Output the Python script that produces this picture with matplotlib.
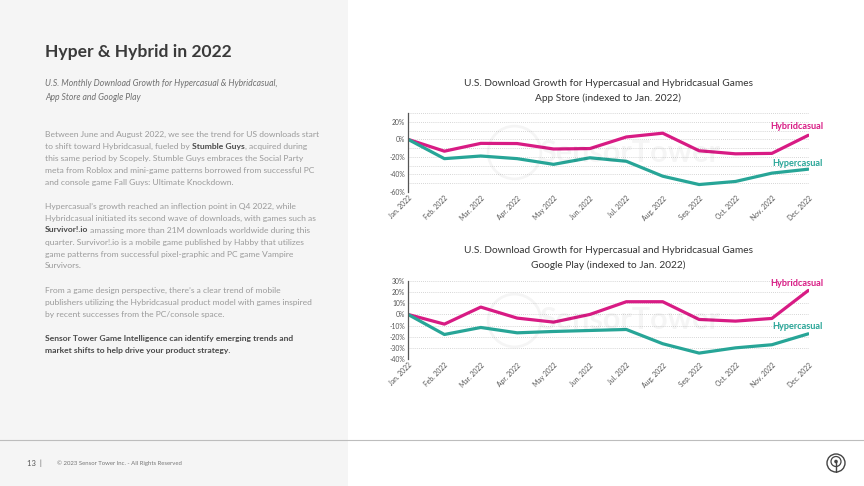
import matplotlib
matplotlib.use("Agg")
import matplotlib.pyplot as plt
from matplotlib.patches import Rectangle, Circle
import numpy as np

# ---------------------------------------------------------------------------
# Data
# ---------------------------------------------------------------------------

MONTHS = ["Jan. 2022", "Feb. 2022", "Mar. 2022", "Apr. 2022", "May 2022", "Jun. 2022",
          "Jul. 2022", "Aug. 2022", "Sep. 2022", "Oct. 2022", "Nov. 2022", "Dec. 2022"]

appstore_hybrid = [0, -13.5, -4.6, -4.8, -11, -10.5, 2.7, 7, -13, -16.5, -16, 4.6]
appstore_hyper  = [0, -22, -19, -22, -28.5, -21, -25, -42, -51.5, -48, -38.5, -34]

gplay_hybrid = [0, -8.7, 6.6, -3.3, -6.9, 0, 11.4, 11.4, -4.5, -6, -3.6, 21.5]
gplay_hyper  = [0, -18, -11.7, -16.5, -15.3, -14.4, -13.5, -26.3, -34.7, -30, -27.2, -17.4]

HYBRID_COLOR = "#d81b84"
HYPER_COLOR  = "#27a597"

FONT = "Lato"
W, H = 864, 486


def fx(x):
    return x / W


def fy(y):
    return 1 - y / H


# ---------------------------------------------------------------------------
# Text helpers
# ---------------------------------------------------------------------------

def rich_line(fig, renderer, x, y, parts, size, color_normal, color_bold):
    """Draw one line made of (text, bold) pieces, left to right."""
    cur = fx(x)
    for txt, bold in parts:
        t = fig.text(cur, fy(y), txt, fontsize=size, family=FONT,
                     fontweight="bold" if bold else "normal",
                     color=color_bold if bold else color_normal, va="center", ha="left")
        bb = t.get_window_extent(renderer=renderer)
        cur += bb.width / fig.bbox.width


def draw_chart(ax, hybrid, hyper, ylim, yticks, ylabels):
    x = np.arange(len(MONTHS))
    ax.set_xlim(0, len(MONTHS) - 1 + 0.02)
    ax.set_ylim(*ylim)
    ax.set_yticks(np.arange(ylim[0], ylim[1] + 1, 10), minor=True)
    ax.set_yticks(yticks)
    ax.set_yticklabels(ylabels, fontsize=4.9, color="#555555", family=FONT)
    ax.grid(axis="y", which="both", linestyle=(0, (1, 1.5)), color="#c8c8c8", linewidth=0.6)
    ax.set_axisbelow(True)
    ax.set_xticks(x)
    ax.set_xticklabels(MONTHS, rotation=45, ha="right", rotation_mode="anchor",
                       fontsize=4.9, color="#555555", family=FONT)
    ax.tick_params(axis="both", which="both", length=0, pad=2)
    for s in ["top", "right", "bottom"]:
        ax.spines[s].set_visible(False)
    ax.spines["left"].set_color("#555555")
    ax.spines["left"].set_linewidth(0.9)
    ax.set_facecolor("none")

    # faint watermark
    cx, cy = 2.9, ylim[0] + (ylim[1] - ylim[0]) * 0.5
    ax.text(3.6, cy, "SensorTower", fontsize=22, color="#000000", alpha=0.04,
            family=FONT, fontweight="bold", va="center", ha="left")
    ax.plot([cx], [cy], marker="o", markersize=38, markerfacecolor="none",
            markeredgecolor="#000000", alpha=0.04, markeredgewidth=2)

    ax.plot(x, hybrid, color=HYBRID_COLOR, linewidth=2.3, solid_capstyle="round")
    ax.plot(x, hyper, color=HYPER_COLOR, linewidth=2.3, solid_capstyle="round")


def main():
    plt.rcParams["font.family"] = [FONT, "DejaVu Sans"]
    fig = plt.figure(figsize=(W / 100, H / 100), dpi=100)
    fig.patch.set_facecolor("white")
    renderer = fig.canvas.get_renderer()

    # left grey panel
    fig.patches.append(Rectangle((0, 0), fx(348), 1, transform=fig.transFigure,
                                 facecolor="#f5f5f5", edgecolor="none", zorder=0))
    # footer rule
    fig.add_artist(plt.Line2D([0, 1], [fy(440), fy(440)], transform=fig.transFigure,
                              color="#bdbdbd", linewidth=0.8))

    # title + subtitle
    fig.text(fx(45), fy(52), "Hyper & Hybrid in 2022", fontsize=12.6, fontweight="bold",
             color="#3a3a3a", va="center", family=FONT)
    fig.text(fx(45), fy(84), "U.S. Monthly Download Growth for Hypercasual & Hybridcasual,",
             fontsize=6.2, style="italic", color="#707070", va="center", family=FONT)
    fig.text(fx(45), fy(98), "App Store and Google Play",
             fontsize=6.2, style="italic", color="#707070", va="center", family=FONT)

    body = "#9a9a9a"
    dark = "#4a4a4a"
    lines = [
        (134, [("Between June and August 2022, we see the trend for US downloads start", False)]),
        (146, [("to shift toward Hybridcasual, fueled by ", False), ("Stumble Guys", True),
               (", acquired during", False)]),
        (158, [("this same period by Scopely. Stumble Guys embraces the Social Party", False)]),
        (170, [("meta from Roblox and mini-game patterns borrowed from successful PC", False)]),
        (182, [("and console game Fall Guys: Ultimate Knockdown.", False)]),
        (206, [("Hypercasual\u2019s growth reached an inflection point in Q4 2022, while", False)]),
        (218, [("Hybridcasual initiated its second wave of downloads, with games such as", False)]),
        (230, [("Survivor!.io", True), (" amassing more than 21M downloads worldwide during this", False)]),
        (242, [("quarter. Survivor!.io is a mobile game published by Habby that utilizes", False)]),
        (254, [("game patterns from successful pixel-graphic and PC game Vampire", False)]),
        (266, [("Survivors.", False)]),
        (290, [("From a game design perspective, there\u2019s a clear trend of mobile", False)]),
        (302, [("publishers utilizing the Hybridcasual product model with games inspired", False)]),
        (314, [("by recent successes from the PC/console space.", False)]),
        (338, [("Sensor Tower Game Intelligence can identify emerging trends and", True)]),
        (350, [("market shifts to help drive your product strategy.", True)]),
    ]
    for y, parts in lines:
        rich_line(fig, renderer, 45, y, parts, 6.1, body, dark)

    # footer
    fig.text(fx(27), fy(463), "13  |", fontsize=5.5, color="#555555", va="center", family=FONT)
    fig.text(fx(57), fy(463), "\u00a9 2023 Sensor Tower Inc. - All Rights Reserved",
             fontsize=4.3, color="#777777", va="center", family=FONT)

    # logo bottom-right
    lax = fig.add_axes([fx(826), fy(473), fx(20), 20 / H])
    lax.set_xlim(-1, 1)
    lax.set_ylim(-1, 1)
    lax.set_aspect("equal")
    lax.axis("off")
    lax.add_patch(Circle((0, 0), 0.9, fill=False, edgecolor="#444444", linewidth=1.0))
    lax.add_patch(Circle((0, 0.15), 0.5, fill=False, edgecolor="#444444", linewidth=0.9))
    lax.add_patch(Circle((0, 0.15), 0.18, facecolor="#444444", edgecolor="none"))
    lax.plot([0, 0], [0.15, -0.9], color="#444444", linewidth=1.0)

    # chart titles
    tc = "#333333"
    fig.text(fx(608), fy(83), "U.S. Download Growth for Hypercasual and Hybridcasual Games",
             fontsize=7.3, color=tc, ha="center", va="center", family=FONT)
    fig.text(fx(608), fy(98), "App Store (indexed to Jan. 2022)",
             fontsize=7.3, color=tc, ha="center", va="center", family=FONT)
    fig.text(fx(608), fy(250), "U.S. Download Growth for Hypercasual and Hybridcasual Games",
             fontsize=7.3, color=tc, ha="center", va="center", family=FONT)
    fig.text(fx(608), fy(265), "Google Play (indexed to Jan. 2022)",
             fontsize=7.3, color=tc, ha="center", va="center", family=FONT)

    # charts
    ax1 = fig.add_axes([fx(408), fy(192), fx(809 - 408), (192 - 113) / H])
    draw_chart(ax1, appstore_hybrid, appstore_hyper, (-60, 30),
               [-60, -40, -20, 0, 20], ["-60%", "-40%", "-20%", "0%", "20%"])
    ax2 = fig.add_axes([fx(408), fy(359), fx(809 - 408), (359 - 281) / H])
    draw_chart(ax2, gplay_hybrid, gplay_hyper, (-40, 30),
               [-40, -30, -20, -10, 0, 10, 20, 30],
               ["-40%", "-30%", "-20%", "-10%", "0%", "10%", "20%", "30%"])

    # series labels
    for y, txt, col in [(126, "Hybridcasual", HYBRID_COLOR), (163, "Hypercasual", HYPER_COLOR),
                        (284, "Hybridcasual", HYBRID_COLOR), (326, "Hypercasual", HYPER_COLOR)]:
        fig.text(fx(823), fy(y), txt, fontsize=6.6, fontweight="bold", color=col,
                 ha="right", va="center", family=FONT)

    fig.savefig("out.png", dpi=100, facecolor=fig.get_facecolor())
    plt.close(fig)


if __name__ == "__main__":
    main()
